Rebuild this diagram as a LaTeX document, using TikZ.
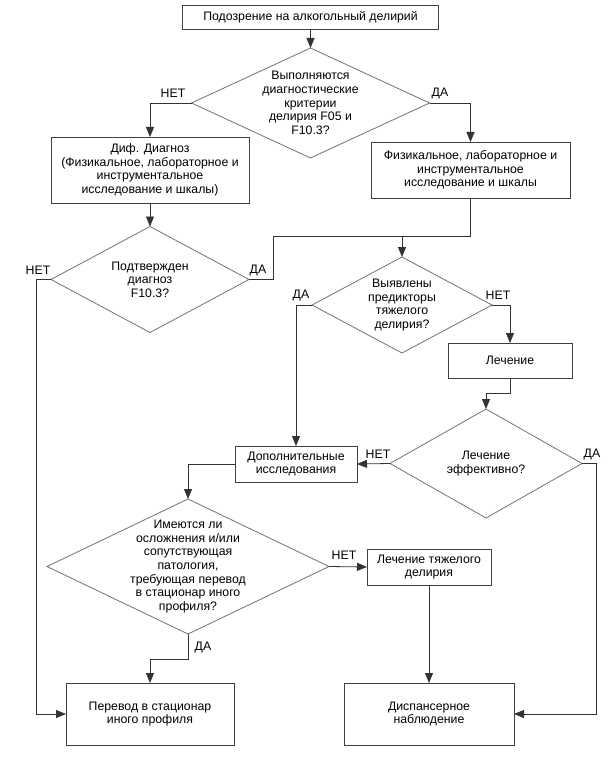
\documentclass[tikz,border=0pt]{standalone}
\usepackage{fontspec}
\setmainfont{Liberation Sans}
\usetikzlibrary{shapes.geometric,arrows.meta}
\newcommand\myfs{\fontsize{12.3}{13.6}\selectfont}
\begin{document}
\begin{tikzpicture}[x=1pt,y=-1pt,
  box/.style={draw=black!75, line width=0.8pt, fill=white, align=center, inner sep=0pt, outer sep=0pt, font=\myfs},
  dia/.style={diamond, draw=black!55, line width=0.8pt, inner sep=0pt, outer sep=0pt},
  dtext/.style={align=center, font=\myfs, inner sep=0pt},
  lbl/.style={font=\myfs, inner sep=0pt},
  conn/.style={draw=black!80, line width=0.8pt},
  arr/.style={conn, -{Triangle[length=10pt,width=8pt]}},
]
\fill[white] (0,0) rectangle (615,762);
\useasboundingbox (0,0) rectangle (615,762);

% boxes
\node[box, minimum width=256pt, minimum height=24pt] (b1) at (310.5,17) {Подозрение на алкогольный делирий};
\node[box, minimum width=198pt, minimum height=66pt] (b2) at (150,170) {Диф. Диагноз\\(Физикальное, лабораторное и\\инструментальное\\исследование и шкалы)};
\node[box, minimum width=199pt, minimum height=56pt] (b3) at (470.5,170) {Физикальное, лабораторное и\\инструментальное\\исследование и шкалы};
\node[box, minimum width=124pt, minimum height=35pt] (bL) at (510,360.5) {Лечение};
\node[box, minimum width=122pt, minimum height=36pt] (b4) at (296,464) {Дополнительные\\исследования};
\node[box, minimum width=124pt, minimum height=36pt] (bT) at (429,567) {Лечение тяжелого\\делирия};
\node[box, minimum width=168pt, minimum height=62pt] (bP) at (150,714) {Перевод в стационар\\иного профиля};
\node[box, minimum width=170pt, minimum height=62pt] (bD) at (429,714) {Диспансерное\\наблюдение};

% diamonds
\node[dia, minimum width=238pt, minimum height=110pt] (d1) at (310.5,103) {};
\node[dtext] (d1t) at (d1) {Выполняются\\диагностические\\критерии\\делирия F05 и\\F10.3?};
\node[dia, minimum width=198pt, minimum height=106pt] (d2) at (150,279.5) {};
\node[dtext] (d2t) at (d2) {Подтвержден\\диагноз\\F10.3?};
\node[dia, minimum width=180pt, minimum height=96pt] (d3) at (402,305) {};
\node[dtext] (d3t) at (d3) {Выявлены\\предикторы\\тяжелого\\делирия?};
\node[dia, minimum width=192pt, minimum height=109pt] (d4) at (486,463.5) {};
\node[dtext] (d4t) at (d4) {Лечение\\эффективно?};
\node[dia, minimum width=282pt, minimum height=135pt] (d5) at (188,566.5) {};
\node[dtext] (d5t) at (d5) {Имеются ли\\осложнения и/или\\сопутствующая\\патология,\\требующая перевод\\в стационар иного\\профиля?};

% bend coordinates
\coordinate (c2w) at (36,279.5);
\coordinate (c2e) at (273,279.5);
\coordinate (c2u) at (273,236);
\coordinate (merge) at (402,236);
\coordinate (cL) at (510,393);
\coordinate (c4e) at (596,463.5);
\coordinate (c5s) at (188,659);

% connectors
\draw[arr] (b1.south) -- (d1.north);
\draw[arr] (d1.west) -| (b2.north);
\draw[arr] (d1.east) -| (b3.north);
\draw[arr] (b2.south) -- (d2.north);
\draw[arr] (d2.west) -- (c2w) |- (bP.west);
\draw[conn] (d2.east) -- (c2e) -- (c2u) -- (merge);
\draw[conn] (b3.south) |- (merge);
\draw[arr] (merge) -- (d3.north);
\draw[arr] (d3.west) -| (b4.north);
\draw[arr] (d3.east) -| (bL.north);
\draw[arr] (bL.south) -- (cL) -| (d4.north);
\draw[arr] (d4.west) -- (b4.east);
\draw[arr] (d4.east) -- (c4e) |- (bD.east);
\draw[arr] (b4.west) -| (d5.north);
\draw[arr] (d5.east) -- (bT.west);
\draw[arr] (d5.south) -- (c5s) -| (bP.north);
\draw[arr] (bT.south) -- (bD.north);

% labels
\node[lbl] (l1n) at (173,93) {НЕТ};
\node[lbl] (l1y) at (440,93) {ДА};
\node[lbl] (l2n) at (38,270) {НЕТ};
\node[lbl] (l2y) at (258,270) {ДА};
\node[lbl] (l3y) at (301,295) {ДА};
\node[lbl] (l3n) at (498,295) {НЕТ};
\node[lbl] (l4n) at (378,454) {НЕТ};
\node[lbl] (l4y) at (592,454) {ДА};
\node[lbl] (l5n) at (344,555) {НЕТ};
\node[lbl] (l5y) at (203,647) {ДА};
\end{tikzpicture}
\end{document}
